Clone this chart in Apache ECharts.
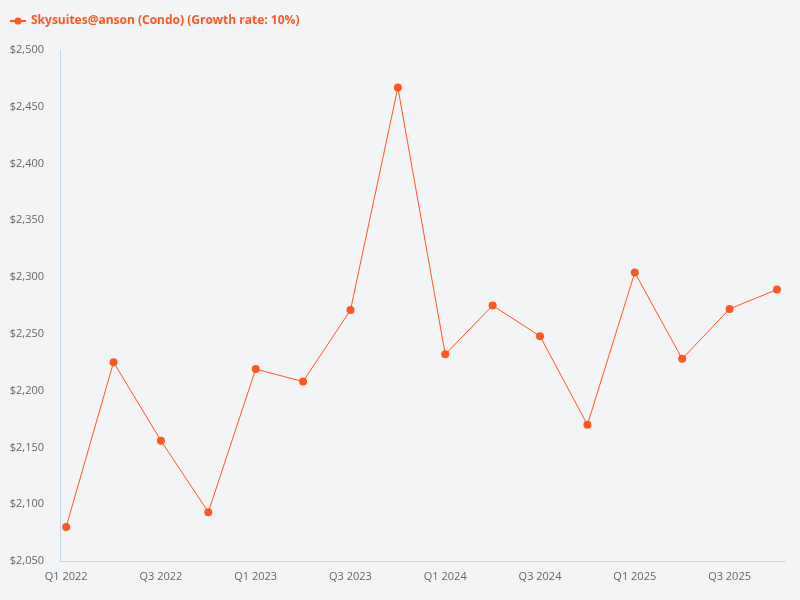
<!DOCTYPE html>
<html>
<head>
<meta charset="utf-8">
<script src="https://cdn.jsdelivr.net/npm/echarts@6/dist/echarts.min.js"></script>
<style>
  html, body { margin: 0; padding: 0; background: #f3f4f6; }
  #main { width: 800px; height: 600px; }
</style>
</head>
<body>
<div id="main"></div>
<script>
var quarters = ['Q1 2022', 'Q2 2022', 'Q3 2022', 'Q4 2022',
                'Q1 2023', 'Q2 2023', 'Q3 2023', 'Q4 2023',
                'Q1 2024', 'Q2 2024', 'Q3 2024', 'Q4 2024',
                'Q1 2025', 'Q2 2025', 'Q3 2025', 'Q4 2025']
var prices = [2080, 2225, 2156, 2093, 2219, 2208, 2271, 2467,
              2232, 2275, 2248, 2170, 2304, 2228, 2272, 2289]
var labelIdx = [0, 2, 4, 6, 8, 10, 12, 14]
var seriesName = 'Skysuites@anson (Condo) (Growth rate: 10%)'

var chart = echarts.init(document.getElementById('main'))

var points = prices.map(function (v, i) { return [i, v] })

chart.setOption({
  backgroundColor: '#f3f4f6',
  textStyle: { fontFamily: 'Open Sans' },
  legend: {
    left: 4,
    top: 10,
    itemWidth: 16,
    itemHeight: 9,
    textStyle: { color: '#ff5722', fontWeight: 'bold', fontSize: 12, fontFamily: 'Open Sans' },
    data: [seriesName]
  },
  grid: { left: 60, right: 15, top: 50, bottom: 39 },
  xAxis: {
    type: 'value',
    min: -0.13,
    max: 15.17,
    splitLine: { show: false },
    axisTick: { show: false },
    axisLine: { show: true, lineStyle: { color: '#c5d5ea' } },
    axisLabel: {
      customValues: labelIdx,
      color: '#666',
      fontSize: 11,
      margin: 10,
      formatter: function (v) { return quarters[v] }
    }
  },
  yAxis: {
    type: 'value',
    min: 2050,
    max: 2500,
    interval: 50,
    splitLine: { show: false },
    axisTick: { show: false },
    axisLine: { show: true, onZero: false, lineStyle: { color: '#c5d5ea' } },
    axisLabel: {
      color: '#666',
      fontSize: 11,
      margin: 16,
      formatter: function (v) { return '$' + v.toLocaleString('en-US') }
    }
  },
  series: [{
    name: seriesName,
    type: 'line',
    data: points,
    symbol: 'circle',
    symbolSize: 8,
    itemStyle: { color: '#ff5722' },
    lineStyle: { color: '#ff5722', width: 1 }
  }]
})
</script>
</body>
</html>
